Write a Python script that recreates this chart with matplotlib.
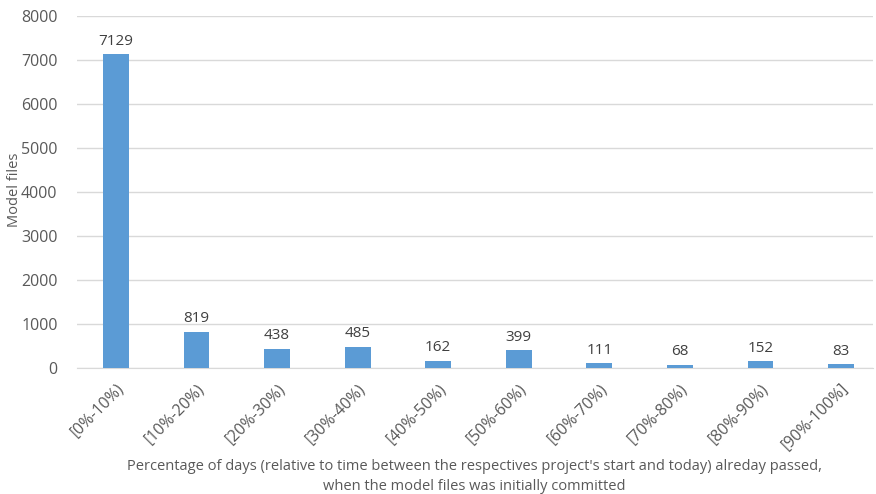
import matplotlib
matplotlib.use("Agg")
import matplotlib.pyplot as plt
import matplotlib.transforms as mtransforms

categories = ["[0%-10%)", "[10%-20%)", "[20%-30%)", "[30%-40%)", "[40%-50%)",
              "[50%-60%)", "[60%-70%)", "[70%-80%)", "[80%-90%)", "[90%-100%]"]
model_files = [7129, 819, 438, 485, 162, 399, 111, 68, 152, 83]
y_ticks = [0, 1000, 2000, 3000, 4000, 5000, 6000, 7000, 8000]

plt.rcParams['font.family'] = ['Open Sans', 'DejaVu Sans']
text_color = "#595959"

W, H = 876, 494
fig = plt.figure(figsize=(W / 100, H / 100), dpi=100)
ax = fig.add_axes([77 / W, 1 - 368 / H, (873 - 77) / W, (368 - 16) / H])

x = list(range(len(categories)))
ax.bar(x, model_files, width=0.32, color="#5b9bd5", zorder=3)
for xi, v in zip(x, model_files):
    ax.annotate(str(v), (xi, v), xytext=(0, 4), textcoords="offset points",
                ha="center", va="bottom", fontsize=11, color="#404040")

ax.set_ylim(0, 8000)
ax.set_xlim(-0.484, 9.397)
ax.set_yticks(y_ticks)
ax.set_yticklabels([str(t) for t in y_ticks], fontsize=11.5, color=text_color)
ax.set_xticks(x)
ax.set_xticklabels(categories, rotation=45, ha="right", rotation_mode="anchor",
                   fontsize=11.5, color=text_color)
shift = mtransforms.ScaledTranslation(6 / 100, 0, fig.dpi_scale_trans)
for lbl in ax.get_xticklabels():
    lbl.set_transform(lbl.get_transform() + shift)
ax.tick_params(axis="both", length=0)
ax.tick_params(axis="y", pad=14)
ax.tick_params(axis="x", pad=9)
ax.grid(axis="y", color="#d9d9d9", linewidth=1, zorder=0)
for s in ["top", "right", "left"]:
    ax.spines[s].set_visible(False)
ax.spines["bottom"].set_color("#d9d9d9")

fig.text(15 / W, 1 - 190 / H, "Model files", rotation=90, ha="center", va="center",
         fontsize=10.5, color=text_color)
fig.text(474 / W, 1 - 466 / H,
         "Percentage of days (relative to time between the respectives project's start and today) alreday passed,",
         ha="center", va="center", fontsize=10.5, color=text_color)
fig.text(474 / W, 1 - 486 / H, "when the model files was initially committed",
         ha="center", va="center", fontsize=10.5, color=text_color)

fig.savefig("out.png", dpi=100, facecolor="white")
